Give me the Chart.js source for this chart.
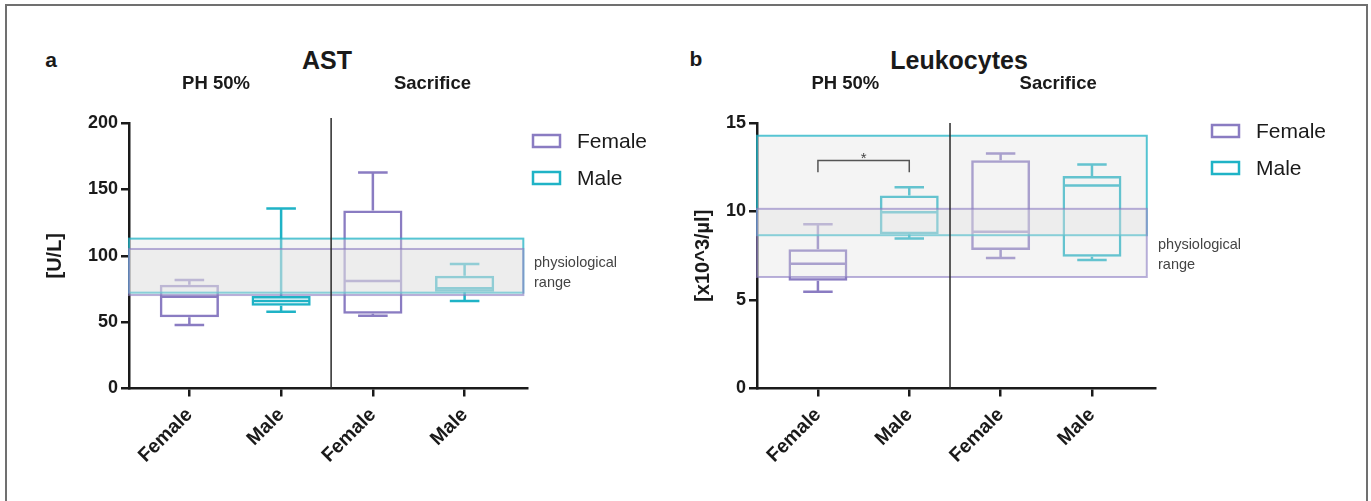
<!DOCTYPE html>
<html>
<head>
<meta charset="utf-8">
<script src="https://cdn.jsdelivr.net/npm/chart.js@4.4.1/dist/chart.umd.min.js"></script>
<style>
html,body{margin:0;padding:0;background:#fff;}
body{width:1371px;height:501px;position:relative;overflow:hidden;font-family:"Liberation Sans",Arial,sans-serif;}
#frame{position:absolute;left:5px;top:4px;width:1363px;height:530px;border:2px solid #707070;box-sizing:border-box;}
.t{position:absolute;color:#1a1a1a;font-weight:bold;white-space:nowrap;transform:translate(-50%,-50%);line-height:1;}
canvas{position:absolute;top:0;}
</style>
</head>
<body>
<div id="frame"></div>
<div class="t" style="left:51px;top:59px;font-size:21px;">a</div>
<div class="t" style="left:327px;top:60px;font-size:25px;">AST</div>
<div class="t" style="left:696px;top:58px;font-size:21px;">b</div>
<div class="t" style="left:959px;top:60px;font-size:25px;">Leukocytes</div>
<canvas id="c1" width="685" height="501" style="left:0;width:685px;height:501px;"></canvas>
<canvas id="c2" width="686" height="501" style="left:685px;width:686px;height:501px;"></canvas>
<script>
// ---------- data ----------
const categories = ['Female', 'Male', 'Female', 'Male'];
const groupLabels = ['PH 50%', 'Sacrifice'];
const seriesNames = ['Female', 'Male'];

// AST [U/L] – box plot statistics per category
const astMin = [47.8, 57.8, 54.8, 65.9];
const astQ1  = [53.6, 62.4, 56.3, 72.9];
const astMed = [69.1, 65.9, 81.0, 75.5];
const astQ3  = [78.2, 69.7, 134.0, 85.0];
const astMax = [81.7, 135.5, 162.7, 93.8];
const astRangeFemale = [70.4, 105.1];
const astRangeMale   = [72.2, 112.9];
const astTicks = [0, 50, 100, 150, 200];

// Leukocytes [x10^3/µl]
const leuMin = [5.47, 8.47, 7.37, 7.26];
const leuQ1  = [6.09, 8.71, 7.83, 7.45];
const leuMed = [7.05, 9.96, 8.85, 11.47];
const leuQ3  = [7.87, 10.9, 12.9, 12.0];
const leuMax = [9.28, 11.37, 13.28, 12.65];
const leuRangeFemale = [6.3, 10.15];
const leuRangeMale   = [8.66, 14.28];
const leuTicks = [0, 5, 10, 15];
const leuSigPair = [0, 1];        // category indices compared
const leuSigY = [12.22, 12.88];   // bracket leg bottom, bracket top
const leuSigText = '*';

// ---------- styling ----------
const FONT = '"Liberation Sans", Arial, sans-serif';
const INK = '#1a1a1a';
const seriesColors = {Female: '#8a7cc2', Male: '#1fb3c6'};
const rangeStroke = {Female: 'rgba(138,124,194,0.6)', Male: 'rgba(31,179,198,0.75)'};

const boxPlugin = {
  id: 'boxDecor',
  afterDatasetsDraw(chart, args, o) {
    const ctx = chart.ctx, xs = chart.scales.x, ys = chart.scales.y, ca = chart.chartArea;
    ctx.save();
    // whiskers and medians
    chart.data.datasets.forEach((ds, d) => {
      const meta = chart.getDatasetMeta(d);
      meta.data.forEach((el, k) => {
        const i = ds.data[k].i;
        const half = el.width / 2, cap = el.width * 0.25;
        ctx.strokeStyle = ds.borderColor; ctx.lineWidth = 2.5; ctx.lineCap = 'butt';
        ctx.beginPath();
        const ym = ys.getPixelForValue(o.med[i]);
        ctx.moveTo(el.x - half + 1, ym); ctx.lineTo(el.x + half - 1, ym);
        const yq3 = ys.getPixelForValue(o.q3[i]), yq1 = ys.getPixelForValue(o.q1[i]);
        const yMax = ys.getPixelForValue(o.max[i]), yMin = ys.getPixelForValue(o.min[i]);
        ctx.moveTo(el.x, yq3); ctx.lineTo(el.x, yMax);
        ctx.moveTo(el.x - cap, yMax); ctx.lineTo(el.x + cap, yMax);
        ctx.moveTo(el.x, yq1); ctx.lineTo(el.x, yMin);
        ctx.moveTo(el.x - cap, yMin); ctx.lineTo(el.x + cap, yMin);
        ctx.stroke();
      });
    });
    // physiological ranges (semi transparent overlay)
    const xr = xs.getPixelForValue(o.rangeEnd);
    [['Male', o.rangeMale], ['Female', o.rangeFemale]].forEach(([name, r]) => {
      const yt = ys.getPixelForValue(r[1]), yb = ys.getPixelForValue(r[0]);
      ctx.fillStyle = 'rgba(224,224,224,0.36)';
      ctx.fillRect(ca.left, yt, xr - ca.left, yb - yt);
      ctx.strokeStyle = rangeStroke[name]; ctx.lineWidth = 2;
      ctx.strokeRect(ca.left, yt, xr - ca.left, yb - yt);
    });
    // divider
    const xd = xs.getPixelForValue(o.divider);
    ctx.strokeStyle = '#2a2a2a'; ctx.lineWidth = 1.5;
    ctx.beginPath(); ctx.moveTo(xd, ca.top - o.dividerOver); ctx.lineTo(xd, ca.bottom); ctx.stroke();
    // significance bracket
    if (o.sigPair) {
      const x1 = xs.getPixelForValue(o.sigPair[0] + 1), x2 = xs.getPixelForValue(o.sigPair[1] + 1);
      const yl = ys.getPixelForValue(o.sigY[0]), yt = ys.getPixelForValue(o.sigY[1]);
      ctx.strokeStyle = '#555'; ctx.lineWidth = 1.5;
      ctx.beginPath(); ctx.moveTo(x1, yl); ctx.lineTo(x1, yt); ctx.lineTo(x2, yt); ctx.lineTo(x2, yl); ctx.stroke();
      ctx.fillStyle = '#444'; ctx.font = '15px ' + FONT; ctx.textAlign = 'center'; ctx.textBaseline = 'alphabetic';
      ctx.fillText(o.sigText, (x1 + x2) / 2, yt + 2);
    }
    // group headers
    ctx.fillStyle = INK; ctx.font = 'bold 18.5px ' + FONT; ctx.textAlign = 'center'; ctx.textBaseline = 'middle';
    groupLabels.forEach((g, k) => ctx.fillText(g, xs.getPixelForValue(o.groupAt[k]), 84));
    // legend
    chart.data.datasets.forEach((ds, d) => {
      const y = o.legendY + d * 37;
      ctx.strokeStyle = ds.borderColor; ctx.lineWidth = 2.5;
      ctx.strokeRect(o.legendX, y - 6, 27, 12);
      ctx.fillStyle = INK; ctx.font = '21px ' + FONT; ctx.textAlign = 'left'; ctx.textBaseline = 'middle';
      ctx.fillText(ds.label, o.legendX + 44, y + 1);
    });
    // range note
    ctx.fillStyle = '#444'; ctx.font = '14.5px ' + FONT; ctx.textAlign = 'left'; ctx.textBaseline = 'middle';
    ctx.fillText('physiological', o.noteX, o.noteY);
    ctx.fillText('range', o.noteX, o.noteY + 20);
    ctx.restore();
  }
};

function makeChart(id, cfg) {
  const datasets = seriesNames.map(name => ({
    label: name,
    data: categories.map((c, i) => c === name ? {x: i + 1, y: [cfg.q1[i], cfg.q3[i]], i: i} : null).filter(Boolean),
    borderColor: seriesColors[name],
    backgroundColor: 'rgba(0,0,0,0)',
    borderWidth: 2.5,
    borderSkipped: false,
    grouped: false,
    categoryPercentage: 1,
    barPercentage: 0.645
  }));
  return new Chart(document.getElementById(id), {
    type: 'bar',
    data: {datasets},
    options: {
      responsive: false, animation: false, events: [],
      layout: {padding: {top: 123, right: cfg.padRight, left: 0, bottom: 0}},
      plugins: {legend: {display: false}, tooltip: {enabled: false}, boxDecor: cfg},
      scales: {
        x: {
          type: 'linear', min: cfg.xMin, max: cfg.xMax, offset: false,
          afterBuildTicks: s => { s.ticks = categories.map((c, i) => ({value: i + 1})); },
          afterFit: s => { s.height = 112.5; },
          ticks: {autoSkip: false, minRotation: 45, maxRotation: 45, padding: 7,
                  callback: v => categories[v - 1] || '',
                  font: {family: FONT, size: 19.5, weight: 'bold'}, color: INK},
          grid: {offset: false, drawOnChartArea: false, drawTicks: true, tickLength: 8, color: INK, lineWidth: 2.5},
          border: {display: true, color: INK, width: 2.5}
        },
        y: {
          min: 0, max: cfg.ticks[cfg.ticks.length - 1],
          afterBuildTicks: s => { s.ticks = cfg.ticks.map(v => ({value: v})); },
          afterFit: s => { s.width = cfg.yAxisW; },
          ticks: {padding: 3, font: {family: FONT, size: 18, weight: 'bold'}, color: INK},
          grid: {drawOnChartArea: false, drawTicks: true, tickLength: 8, color: INK, lineWidth: 2.5},
          border: {display: true, color: INK, width: 2.5},
          title: {display: true, text: cfg.yTitle, color: INK,
                  font: {family: FONT, size: 20, weight: 'bold'}, padding: {top: cfg.titlePad, bottom: 0}}
        }
      }
    },
    plugins: [boxPlugin]
  });
}

makeChart('c1', {
  min: astMin, q1: astQ1, med: astMed, q3: astQ3, max: astMax,
  rangeFemale: astRangeFemale, rangeMale: astRangeMale, ticks: astTicks, yTitle: '[U/L]',
  xMin: 0.342, xMax: 4.68, rangeEnd: 4.64, divider: 2.545, dividerOver: 5,
  groupAt: [1.29, 3.65], padRight: 158, yAxisW: 129, titlePad: 43,
  legendX: 533, legendY: 141, noteX: 534, noteY: 263
});
makeChart('c2', {
  min: leuMin, q1: leuQ1, med: leuMed, q3: leuQ3, max: leuMax,
  rangeFemale: leuRangeFemale, rangeMale: leuRangeMale, ticks: leuTicks, yTitle: '[x10^3/µl]',
  xMin: 0.333, xMax: 4.69, rangeEnd: 4.60, divider: 2.446, dividerOver: 0,
  sigPair: leuSigPair, sigY: leuSigY, sigText: leuSigText,
  groupAt: [1.3, 3.63], padRight: 216, yAxisW: 72, titlePad: 6,
  legendX: 527, legendY: 131, noteX: 473, noteY: 245
});
</script>
</body>
</html>
